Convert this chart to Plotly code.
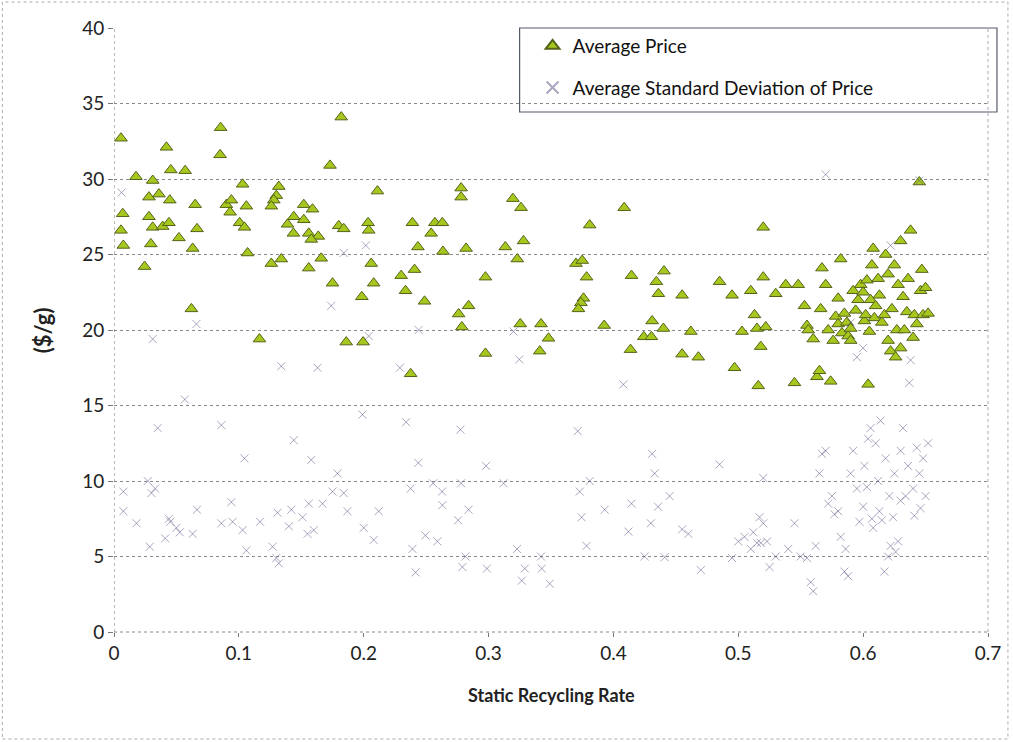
import plotly.graph_objects as go

# ---------------- data ----------------
price_x = [0.0854, 0.0056, 0.042, 0.085, 0.0455, 0.057, 0.0176, 0.031, 0.103, 0.132,
           0.028, 0.036, 0.0447, 0.065, 0.13, 0.128, 0.126, 0.090, 0.094, 0.093,
           0.106, 0.007, 0.028, 0.0056, 0.031, 0.039, 0.044, 0.0665, 0.1006, 0.1045,
           0.139, 0.144, 0.1437, 0.0075, 0.0295, 0.052, 0.063, 0.107, 0.0245, 0.126,
           0.134, 0.062, 0.1165,
           0.211, 0.152, 0.159, 0.152, 0.156, 0.1636, 0.158, 0.18, 0.184, 0.2035,
           0.204, 0.166, 0.156, 0.206, 0.175, 0.208, 0.1985, 0.186, 0.1995,
           0.182, 0.173, 0.278, 0.278, 0.239, 0.257, 0.263, 0.254, 0.2434, 0.2635,
           0.282, 0.230, 0.2407, 0.2335, 0.2487, 0.284, 0.276, 0.2786, 0.2376,
           0.3195, 0.326, 0.4086, 0.381, 0.3134, 0.328, 0.323, 0.370, 0.375, 0.3785,
           0.4145, 0.4405, 0.4344, 0.436, 0.2975, 0.376, 0.374, 0.372, 0.3254, 0.342,
           0.348, 0.341, 0.2975, 0.3926, 0.431, 0.4243, 0.4304, 0.440, 0.4137,
           0.455, 0.455, 0.462, 0.468, 0.485, 0.495, 0.497, 0.503, 0.51, 0.513,
           0.515, 0.516, 0.518, 0.52, 0.52, 0.522, 0.53, 0.538, 0.545, 0.548,
           0.553, 0.555, 0.556, 0.56, 0.563, 0.565, 0.566, 0.567, 0.57, 0.572,
           0.574, 0.576, 0.578, 0.58, 0.58, 0.582, 0.583, 0.585, 0.587, 0.588,
           0.59, 0.59, 0.592, 0.594, 0.596, 0.598, 0.6, 0.601, 0.602, 0.603,
           0.604, 0.605, 0.606, 0.607, 0.608, 0.609, 0.61, 0.612, 0.613, 0.615,
           0.617, 0.618, 0.62, 0.62, 0.622, 0.623, 0.625, 0.626, 0.627, 0.628,
           0.63, 0.63, 0.632, 0.633, 0.635, 0.636, 0.638, 0.64, 0.641, 0.643,
           0.645, 0.646, 0.647, 0.648, 0.65, 0.652]
price_y = [33.4, 32.7, 32.1, 31.6, 30.6, 30.55, 30.15, 29.9, 29.65, 29.5,
           28.8, 29.0, 28.6, 28.3, 28.9, 28.6, 28.2, 28.3, 28.6, 27.8,
           28.2, 27.7, 27.5, 26.6, 26.8, 26.85, 27.1, 26.7, 27.1, 26.8,
           27.0, 27.5, 26.4, 25.6, 25.7, 26.1, 25.4, 25.1, 24.2, 24.4,
           24.7, 21.4, 19.4,
           29.2, 28.3, 28.0, 27.3, 26.4, 26.2, 26.0, 26.9, 26.7, 27.1,
           26.6, 24.75, 24.1, 24.4, 23.1, 23.1, 22.2, 19.2, 19.2,
           34.1, 30.9, 29.4, 28.8, 27.1, 27.1, 27.1, 26.4, 25.5, 25.2,
           25.4, 23.6, 24.0, 22.6, 21.9, 21.6, 21.06, 20.2, 17.1,
           28.7, 28.1, 28.1, 26.95, 25.5, 25.9, 24.7, 24.4, 24.6, 23.5,
           23.6, 23.9, 23.2, 22.4, 23.5, 22.1, 21.8, 21.4, 20.4, 20.4,
           19.45, 18.6, 18.45, 20.3, 20.6, 19.55, 19.55, 20.1, 18.7,
           22.3, 18.4, 19.9, 18.2, 23.2, 22.3, 17.5, 19.9, 22.6, 21.0,
           20.1, 16.3, 18.9, 23.5, 26.8, 20.2, 22.4, 23.0, 16.5, 23.0,
           21.6, 20.3, 20.0, 19.4, 16.9, 17.3, 21.4, 24.1, 23.0, 20.0,
           16.6, 19.3, 20.9, 20.4, 22.1, 24.7, 19.8, 21.1, 20.5, 19.6,
           19.3, 20.1, 22.6, 21.3, 22.0, 23.0, 22.5, 20.6, 21.0, 23.3,
           16.4, 19.9, 22.0, 24.3, 25.4, 20.8, 21.6, 23.4, 22.3, 20.5,
           21.0, 25.0, 19.3, 23.7, 18.6, 21.4, 24.3, 18.2, 20.0, 23.0,
           25.9, 18.8, 22.2, 20.0, 21.2, 23.4, 26.6, 19.5, 21.0, 20.4,
           29.8, 22.6, 24.0, 21.0, 22.8, 21.1]

sd_x = [0.006, 0.066, 0.031, 0.134, 0.0567, 0.035, 0.086, 0.144, 0.1045,
        0.2017, 0.184, 0.174, 0.204, 0.163, 0.199, 0.158, 0.179, 0.0075, 0.030,
        0.0075, 0.018, 0.094, 0.044, 0.0287, 0.041, 0.0527, 0.063, 0.0665, 0.086,
        0.103, 0.106, 0.117, 0.127, 0.13, 0.132, 0.131, 0.142, 0.151, 0.155,
        0.160, 0.167, 0.175, 0.184, 0.187, 0.2, 0.208, 0.212, 0.140, 0.156,
        0.027, 0.033, 0.045, 0.05, 0.095,
        0.244, 0.229, 0.234, 0.2775,
        0.32, 0.3246, 0.408, 0.3714, 0.431, 0.433, 0.2437, 0.298, 0.2376, 0.2556,
        0.2628, 0.278, 0.312, 0.381, 0.373, 0.4145, 0.4357, 0.393, 0.430, 0.3745,
        0.263, 0.284, 0.2756, 0.2494, 0.259, 0.239, 0.412, 0.3785, 0.3228, 0.2815,
        0.342, 0.425, 0.441, 0.2416, 0.279, 0.2987, 0.329, 0.3426, 0.3266, 0.349,
        0.445, 0.455, 0.46, 0.47, 0.485, 0.495, 0.5, 0.505, 0.51, 0.512,
        0.515, 0.517, 0.518, 0.52, 0.52, 0.523, 0.525, 0.53, 0.54, 0.545,
        0.55, 0.555, 0.558, 0.56, 0.562, 0.565, 0.567, 0.57, 0.572, 0.575,
        0.577, 0.58, 0.582, 0.585, 0.586, 0.588, 0.59, 0.592, 0.595, 0.597,
        0.6, 0.601, 0.603, 0.604, 0.606, 0.607, 0.608, 0.61, 0.612, 0.613,
        0.614, 0.615, 0.617, 0.618, 0.62, 0.621, 0.622, 0.624, 0.625, 0.626,
        0.628, 0.63, 0.63, 0.632, 0.634, 0.636, 0.637, 0.638, 0.64, 0.641,
        0.643, 0.645, 0.646, 0.648, 0.65, 0.652, 0.57, 0.595, 0.6, 0.622,
        0.645, 0.59]
sd_y = [29.1, 20.4, 19.4, 17.6, 15.4, 13.5, 13.7, 12.7, 11.5,
        25.6, 25.1, 21.6, 19.6, 17.5, 14.4, 11.4, 10.5, 9.3, 9.2,
        8.0, 7.2, 8.6, 7.5, 5.65, 6.2, 6.6, 6.5, 8.1, 7.2,
        6.75, 5.4, 7.3, 5.65, 4.9, 4.55, 7.9, 8.1, 7.6, 6.5,
        6.75, 8.5, 9.3, 9.2, 8.0, 6.9, 6.1, 8.0, 7.0, 8.5,
        10.0, 9.5, 7.3, 6.9, 7.3,
        20.0, 17.5, 13.9, 13.4,
        19.9, 18.05, 16.4, 13.3, 11.8, 10.5, 11.2, 11.0, 9.5, 9.85,
        9.3, 9.85, 9.85, 10.0, 9.3, 8.5, 8.3, 8.1, 7.2, 7.6,
        8.4, 8.1, 7.4, 6.4, 6.0, 5.5, 6.65, 5.7, 5.5, 5.0,
        5.0, 5.0, 4.95, 3.95, 4.3, 4.2, 4.2, 4.2, 3.4, 3.2,
        9.0, 6.8, 6.5, 4.1, 11.1, 4.9, 6.0, 6.3, 5.5, 6.6,
        5.9, 7.6, 5.9, 7.2, 10.2, 6.0, 4.3, 5.0, 5.5, 7.2,
        5.0, 4.9, 3.3, 2.7, 5.7, 10.5, 11.8, 12.0, 8.5, 9.0,
        7.8, 8.0, 6.3, 4.0, 5.5, 3.7, 10.5, 12.0, 9.5, 7.3,
        8.3, 11.0, 9.6, 12.8, 13.5, 7.5, 6.9, 12.5, 10.0, 8.0,
        14.0, 7.4, 4.0, 11.5, 5.0, 9.0, 5.7, 7.6, 10.5, 5.3,
        6.0, 8.7, 12.0, 13.5, 9.0, 11.0, 16.5, 18.0, 9.5, 7.7,
        12.2, 10.5, 8.2, 11.5, 9.0, 12.5, 30.3, 18.2, 18.8, 25.6,
        29.9, 20.5]

x_ticks = [0, 0.1, 0.2, 0.3, 0.4, 0.5, 0.6, 0.7]
y_ticks = [0, 5, 10, 15, 20, 25, 30, 35, 40]

FONT = "Lato"
W, H = 1013, 742
L, R, T, B = 114, 22, 28, 110
PW, PH = W - L - R, H - T - B

fig = go.Figure()
fig.add_trace(go.Scatter(
    x=price_x, y=price_y, mode="markers", name="Average Price", legendgroup="a",
    marker=dict(symbol="triangle-up", size=11, color="#a6c81e",
                line=dict(color="#55621a", width=1))))
fig.add_trace(go.Scatter(
    x=sd_x, y=sd_y, mode="markers", name="Average Standard Deviation of Price",
    legendgroup="b",
    marker=dict(symbol="x-thin", size=8, color="rgba(80,80,130,0.5)",
                line=dict(color="rgba(80,80,130,0.5)", width=1))))

fig.update_layout(
    width=W, height=H,
    margin=dict(l=L, r=R, t=T, b=B),
    paper_bgcolor="white", plot_bgcolor="white",
    font=dict(family=FONT, size=19, color="#222"),
    showlegend=True,
    legend=dict(x=(534 - L) / PW, y=1 + 1 / PH, xanchor="left", yanchor="top",
                bgcolor="rgba(0,0,0,0)", borderwidth=0,
                font=dict(family=FONT, size=19, color="#111"),
                itemsizing="constant", tracegroupgap=14),
    xaxis=dict(range=[0, 0.7], tickvals=x_ticks, ticktext=[f"{v:g}" for v in x_ticks],
               showgrid=False, zeroline=False, showline=False,
               ticks="outside", ticklen=4, tickcolor="#777",
               tickfont=dict(family=FONT, size=19, color="#222")),
    yaxis=dict(range=[0, 40], tickvals=y_ticks, ticktext=[str(v) for v in y_ticks],
               showgrid=True, gridcolor="#888", griddash="dot", gridwidth=1,
               zeroline=False, showline=False,
               ticks="outside", ticklen=5, tickcolor="#777",
               tickfont=dict(family=FONT, size=19, color="#222")),
)

# plot-area frame (dotted) and outer chart border
fig.add_shape(type="line", xref="x", yref="paper", x0=0, x1=0, y0=0, y1=1,
              line=dict(color="#777", width=1, dash="dot"))
fig.add_shape(type="line", xref="paper", yref="paper", x0=1, x1=1, y0=0, y1=1,
              line=dict(color="#aaa", width=1, dash="dot"))
fig.add_shape(type="line", xref="paper", yref="paper", x0=0, x1=1, y0=0, y1=0,
              line=dict(color="#888", width=1, dash="dot"))
fig.add_shape(type="rect", xref="paper", yref="paper",
              x0=-(L - 2) / PW, x1=(W - 2 - L) / PW, y0=-(H - 3 - (T + PH)) / PH,
              y1=(T + PH - 2) / PH,
              line=dict(color="#aaa", width=1, dash="dot"))
# legend box
fig.add_shape(type="rect", xref="paper", yref="paper",
              x0=(521 - L) / PW, x1=(1000 - L) / PW, y0=(T + PH - 112) / PH, y1=1.0,
              line=dict(color="#555a6a", width=1.2), fillcolor="white", layer="below")

fig.add_annotation(text="<b>Static Recycling Rate</b>", xref="paper", yref="paper",
                   x=(553 - L) / PW, y=-(695 - T - PH) / PH, showarrow=False,
                   font=dict(family=FONT, size=18, color="#222"), yanchor="middle")
fig.add_annotation(text="<b>($/g)</b>", xref="paper", yref="paper",
                   x=-(L - 42) / PW, y=(T + PH - 330) / PH, showarrow=False,
                   textangle=-90, font=dict(family=FONT, size=22, color="#222"),
                   xanchor="center", yanchor="middle")

fig.write_html("out.html", config={"displayModeBar": False},
               post_script="document.body.style.margin='0';document.body.style.padding='0';")
